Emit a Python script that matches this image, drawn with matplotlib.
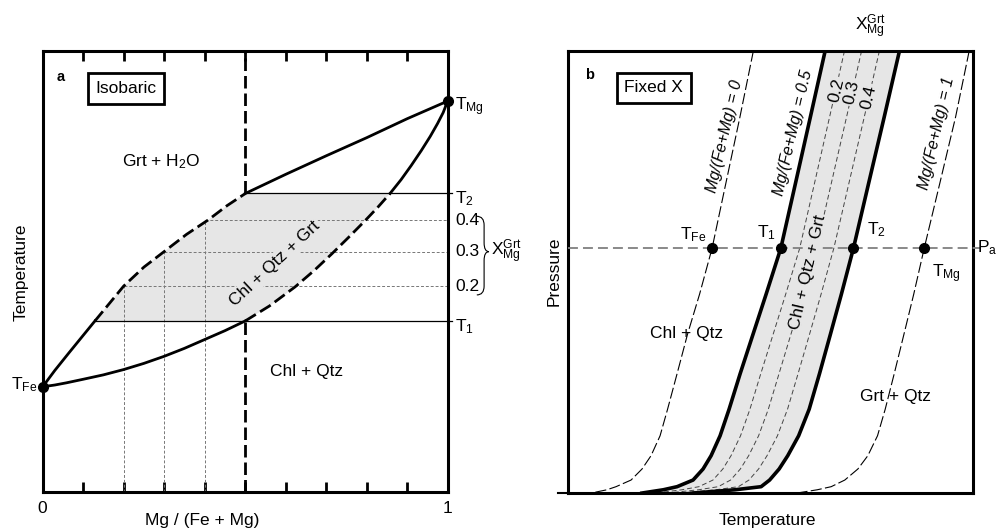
import matplotlib
matplotlib.use("Agg")
import matplotlib.pyplot as plt
from matplotlib.path import Path
from matplotlib.patches import PathPatch

plt.rcParams['font.family'] = ['Liberation Sans', 'DejaVu Sans']
plt.rcParams['mathtext.default'] = 'regular'

# ---- panel a: isobaric T-X section (x = Mg/(Fe+Mg), y = temperature, 0..1)
up_lo_x = [0.0, 0.030, 0.065, 0.129]
up_lo_t = [0.239, 0.276, 0.316, 0.388]
up_mid_x = [0.129, 0.165, 0.200, 0.250, 0.304, 0.355, 0.409, 0.455, 0.501]
up_mid_t = [0.388, 0.428, 0.467, 0.510, 0.548, 0.584, 0.617, 0.649, 0.677]
up_hi_x = [0.501, 0.600, 0.700, 0.800, 0.900, 1.0]
up_hi_t = [0.677, 0.720, 0.762, 0.803, 0.846, 0.886]

lo_lo_x = [0.0, 0.030, 0.059, 0.10, 0.15, 0.20, 0.25, 0.30, 0.35, 0.40, 0.45, 0.50]
lo_lo_t = [0.239, 0.243, 0.248, 0.256, 0.266, 0.278, 0.292, 0.308, 0.326, 0.346, 0.366, 0.388]
lo_mid_x = [0.50, 0.560, 0.623, 0.670, 0.714, 0.755, 0.796, 0.828, 0.858]
lo_mid_t = [0.388, 0.422, 0.465, 0.502, 0.540, 0.577, 0.615, 0.646, 0.677]
lo_hi_x = [0.858, 0.885, 0.910, 0.935, 0.957, 0.975, 0.989, 1.0]
lo_hi_t = [0.677, 0.708, 0.740, 0.774, 0.806, 0.835, 0.860, 0.886]

t_fe = 0.239
t_mg = 0.886
t1 = 0.388
t2 = 0.677
x_divide = 0.5
xgrt = [0.2, 0.3, 0.4]
xgrt_t = [0.467, 0.545, 0.616]
xgrt_labels = ["0.2", "0.3", "0.4"]

# ---- panel b: fixed-X P-T curves (x = temperature, y = pressure, 0..1)
p_levels = [1.0, 0.85, 0.7, 0.554, 0.45, 0.36, 0.27, 0.19, 0.13, 0.085, 0.055, 0.03, 0.015, 0.008, 0.0]
curve_0 = [0.4575, 0.4242, 0.3894, 0.3556, 0.3247, 0.2951, 0.2691, 0.2457, 0.2272, 0.2049, 0.1827, 0.1556, 0.1185, 0.096, 0.054]
curve_05 = [0.6346, 0.598, 0.5612, 0.5252, 0.4889, 0.4568, 0.4247, 0.3975, 0.3753, 0.3531, 0.3333, 0.3086, 0.2691, 0.235, 0.178]
curve_t2 = [0.818, 0.7802, 0.7417, 0.7044, 0.6746, 0.6477, 0.6205, 0.5951, 0.5691, 0.5422, 0.521, 0.4975, 0.4765, 0.412, 0.30]
curve_1 = [0.99, 0.9563, 0.9173, 0.879, 0.8531, 0.8291, 0.8049, 0.7827, 0.7637, 0.7398, 0.7153, 0.683, 0.6494, 0.615, 0.5605]
grt_02 = [0.6823, 0.6454, 0.6081, 0.5718, 0.5372, 0.5064, 0.4756, 0.4489, 0.4257, 0.4023, 0.3821, 0.3577, 0.3230, 0.281, 0.21]
grt_03 = [0.7245, 0.6873, 0.6496, 0.6130, 0.5799, 0.5503, 0.5206, 0.4943, 0.4703, 0.4458, 0.4253, 0.4012, 0.3707, 0.322, 0.238]
grt_04 = [0.7685, 0.731, 0.6930, 0.6560, 0.6245, 0.5962, 0.5676, 0.5417, 0.5168, 0.4911, 0.4703, 0.4465, 0.4205, 0.364, 0.267]
p_a = 0.554
pa_idx = 3
pa_labels = ["T$_{Fe}$", "T$_1$", "T$_2$", "T$_{Mg}$"]

FS = 12.5
GREY = '#e6e6e6'


def main():
    fig = plt.figure(figsize=(9.97, 5.30), dpi=100)

    # ================= panel a =================
    ax = fig.add_axes([0.0428, 0.0711, 0.4062, 0.8332])
    ax.set_xlim(0, 1)
    ax.set_ylim(0, 1)
    for s in ax.spines.values():
        s.set_linewidth(2.2)

    # shaded three-phase field
    poly_x = up_mid_x + lo_mid_x[::-1]
    poly_t = up_mid_t + lo_mid_t[::-1]
    ax.fill(poly_x, poly_t, color=GREY, lw=0, zorder=1)

    # dotted composition lines
    for x, t in zip(xgrt, xgrt_t):
        ax.plot([x, x], [0, t], color='#777777', lw=0.7, ls=(0, (3, 2)), zorder=2)
        ax.plot([x, 1], [t, t], color='#777777', lw=0.7, ls=(0, (3, 2)), zorder=2)

    # isotherms T1, T2
    ax.plot([up_mid_x[0], 1.01], [t1, t1], color='k', lw=0.9, clip_on=False, zorder=3)
    ax.plot([x_divide, 1.01], [t2, t2], color='k', lw=0.9, clip_on=False, zorder=3)

    # loop curves
    ax.plot(up_lo_x, up_lo_t, color='k', lw=2.0, zorder=4)
    ax.plot(up_mid_x, up_mid_t, color='k', lw=2.0, ls=(0, (4.5, 1.8)), zorder=4)
    ax.plot(up_hi_x, up_hi_t, color='k', lw=2.0, zorder=4)
    ax.plot(lo_lo_x, lo_lo_t, color='k', lw=2.0, zorder=4)
    ax.plot(lo_mid_x, lo_mid_t, color='k', lw=2.0, ls=(0, (4.5, 1.8)), zorder=4)
    ax.plot(lo_hi_x, lo_hi_t, color='k', lw=2.0, zorder=4)

    # bulk composition line
    ax.plot([x_divide, x_divide], [t2, 1], color='k', lw=2.0, ls=(0, (4.5, 1.8)), zorder=4)
    ax.plot([x_divide, x_divide], [0, t1], color='k', lw=2.0, ls=(0, (4.5, 1.8)), zorder=4)

    ax.plot([0, 1], [t_fe, t_mg], 'o', color='k', ms=7, clip_on=False, zorder=6)

    ticks = [i / 10 for i in range(11)]
    ax.set_xticks(ticks)
    ax.set_xticklabels(["0"] + [""] * 9 + ["1"], fontsize=FS)
    ax.set_yticks([])
    ax.tick_params(axis='x', direction='in', length=7.5, width=2, top=True, pad=6)

    ax.text(0.045, 0.941, "a", fontsize=10.5, fontweight='bold', ha='center', va='center')
    ax.text(0.206, 0.914, "Isobaric", fontsize=FS, ha='center', va='center',
            bbox=dict(boxstyle='square,pad=0.45', fc='white', ec='k', lw=2))
    ax.text(0.294, 0.749, "Grt + H$_2$O", fontsize=FS, ha='center', va='center')
    ax.text(0.574, 0.519, "Chl + Qtz + Grt", fontsize=FS, ha='center', va='center', rotation=43,
            bbox=dict(boxstyle='square,pad=0.1', fc=GREY, ec='none'), zorder=5)
    ax.text(0.652, 0.273, "Chl + Qtz", fontsize=FS, ha='center', va='center')

    ax.text(-0.012, t_fe + 0.004, "T$_{Fe}$", fontsize=FS, ha='right', va='center', clip_on=False)
    ax.text(1.018, t_mg - 0.012, "T$_{Mg}$", fontsize=FS, ha='left', va='center', clip_on=False)
    ax.text(1.018, t2 - 0.012, "T$_2$", fontsize=FS, ha='left', va='center', clip_on=False)
    ax.text(1.018, t1 - 0.012, "T$_1$", fontsize=FS, ha='left', va='center', clip_on=False)
    for t, lab in zip(xgrt_t, xgrt_labels):
        ax.text(1.018, t, lab, fontsize=FS, ha='left', va='center', clip_on=False)

    brace = Path([(1.072, 0.625), (1.09, 0.625), (1.09, 0.605), (1.09, 0.565),
                  (1.09, 0.545), (1.102, 0.545), (1.09, 0.545), (1.09, 0.525),
                  (1.09, 0.467), (1.09, 0.447), (1.072, 0.447)],
                 [Path.MOVETO, Path.CURVE3, Path.CURVE3, Path.LINETO,
                  Path.CURVE3, Path.CURVE3, Path.CURVE3, Path.CURVE3,
                  Path.LINETO, Path.CURVE3, Path.CURVE3])
    ax.add_patch(PathPatch(brace, transform=ax.transAxes, fc='none', ec='k', lw=0.8, clip_on=False))
    ax.text(1.108, 0.545, "X$_{Mg}^{Grt}$", fontsize=FS, ha='left', va='center', clip_on=False)

    fig.text(21 / 997, 1 - 272 / 530, "Temperature", fontsize=FS, rotation=90, ha='center', va='center')
    fig.text(202 / 997, 1 - 520 / 530, "Mg / (Fe + Mg)", fontsize=FS, ha='center', va='center')

    # ================= panel b =================
    bx = fig.add_axes([0.5697, 0.0692, 0.4065, 0.8351])
    bx.set_xlim(0, 1)
    bx.set_ylim(0, 1)
    bx.set_xticks([])
    bx.set_yticks([])
    for s in bx.spines.values():
        s.set_linewidth(2.2)

    bx.fill_betweenx(p_levels, curve_05, curve_t2, color=GREY, lw=0, zorder=1)
    for c in (grt_02, grt_03, grt_04):
        bx.plot(c, p_levels, color='#444444', lw=0.7, ls=(0, (5, 3)), zorder=2)
    for c in (curve_0, curve_1):
        bx.plot(c, p_levels, color='k', lw=0.8, ls=(0, (10, 3)), zorder=3)
    for c in (curve_05, curve_t2):
        bx.plot(c, p_levels, color='k', lw=2.6, zorder=4, solid_capstyle='butt')

    bx.plot([0, 1.02], [p_a, p_a], color='#808080', lw=1.3, ls=(0, (5.5, 2.8)), clip_on=False, zorder=3)
    pa_x = [curve_0[pa_idx], curve_05[pa_idx], curve_t2[pa_idx], curve_1[pa_idx]]
    bx.plot(pa_x, [p_a] * 4, 'o', color='k', ms=7, zorder=6)
    bx.plot([-0.025, 0], [0, 0], color='k', lw=1.5, clip_on=False)

    label_pos = [(0.308, 0.584), (0.490, 0.588), (0.762, 0.595), (0.934, 0.497)]
    for (x, y), lab in zip(label_pos, pa_labels):
        bx.text(x, y, lab, fontsize=FS, ha='center', va='center')
    bx.text(1.01, p_a, "P$_a$", fontsize=FS, ha='left', va='center', clip_on=False)

    bx.text(0.054, 0.945, "b", fontsize=10.5, fontweight='bold', ha='center', va='center')
    bx.text(0.212, 0.916, "Fixed X", fontsize=FS, ha='center', va='center',
            bbox=dict(boxstyle='square,pad=0.45', fc='white', ec='k', lw=2))
    bx.text(0.745, 1.054, "X$_{Mg}^{Grt}$", fontsize=FS, ha='center', va='center', clip_on=False)

    bx.text(0.387, 0.806, "Mg/(Fe+Mg) = 0", fontsize=11.5, style='italic', rotation=77,
            ha='center', va='center')
    bx.text(0.555, 0.814, "Mg/(Fe+Mg) = 0.5", fontsize=11.5, style='italic', rotation=77,
            ha='center', va='center')
    bx.text(0.910, 0.814, "Mg/(Fe+Mg) = 1", fontsize=11.5, style='italic', rotation=77,
            ha='center', va='center')
    for (x, y), lab in zip([(0.663, 0.910), (0.700, 0.906), (0.741, 0.895)], xgrt_labels):
        bx.text(x, y, lab, fontsize=FS, rotation=77, ha='center', va='center',
                bbox=dict(boxstyle='square,pad=0.1', fc=GREY, ec='none'), zorder=5)

    bx.text(0.592, 0.50, "Chl + Qtz + Grt", fontsize=FS, rotation=77, ha='center', va='center',
            bbox=dict(boxstyle='square,pad=0.05', fc=GREY, ec='none'), zorder=5)
    bx.text(0.293, 0.361, "Chl + Qtz", fontsize=FS, ha='center', va='center', zorder=5)
    bx.text(0.807, 0.218, "Grt + Qtz", fontsize=FS, ha='center', va='center', zorder=5)

    fig.text(554 / 997, 1 - 271 / 530, "Pressure", fontsize=FS, rotation=90, ha='center', va='center')
    fig.text(767 / 997, 1 - 520 / 530, "Temperature", fontsize=FS, ha='center', va='center')

    fig.savefig("out.png", dpi=100)


if __name__ == "__main__":
    main()
